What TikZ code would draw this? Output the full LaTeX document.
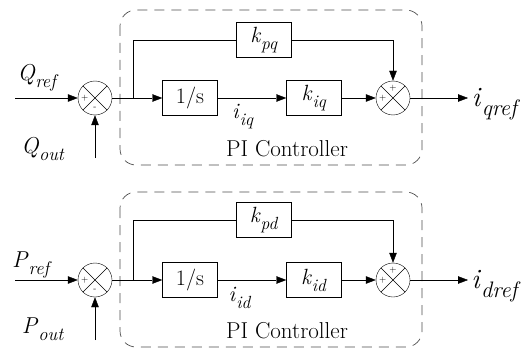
\documentclass[tikz,border=0pt]{standalone}
\usepackage{fontspec}
\usepackage{graphicx}
\usetikzlibrary{arrows.meta}
\newcommand{\vsub}[2]{\textit{#1}\raisebox{-0.32em}{\scalebox{0.8}{\textit{#2}}}}
\tikzset{
  blk/.style={draw, thin, minimum width=55pt, minimum height=35pt, inner sep=0pt, font=\fontsize{22}{24}\selectfont},
  sumjn/.style={draw, thin, circle, minimum size=34pt, inner sep=0pt,
    path picture={\draw[thin] (path picture bounding box.north west) -- (path picture bounding box.south east)
      (path picture bounding box.north east) -- (path picture bounding box.south west);}},
  sgn/.style={font=\fontsize{9}{9}\selectfont, inner sep=0pt},
  lbl/.style={font=\fontsize{23}{25}\selectfont, inner sep=0pt},
  sig/.style={thin, -{Triangle[length=10pt,width=7.5pt]}},
  picbox/.style={draw, line width=0.7pt, black!70, dash pattern=on 10pt off 7pt, rounded corners=16pt},
}
\begin{document}
\begin{tikzpicture}[x=1pt,y=-1pt]
  \useasboundingbox (0,0) rectangle (527,350);
  % reactive power loop
  \begin{scope}
    \draw[picbox] (120,10) rectangle (422,165);
    \node[sumjn] (sq1) at (95,98) {};
    \node[sgn] at ([xshift=7pt]sq1.west) {+};
    \node[sgn] at ([yshift=7pt]sq1.south) {-};
    \node[blk] (iq) at (190,98) {1/s};
    \node[blk] (kiq) at (314,98) {\vsub{k}{iq}};
    \node[blk] (kpq) at (264,40) {\vsub{k}{pq}};
    \node[sumjn] (sq2) at (393,98) {};
    \node[sgn] at ([xshift=7pt]sq2.west) {+};
    \node[sgn] at ([yshift=-7pt]sq2.north) {+};
    \coordinate (qin) at (15,98);
    \coordinate (qfb) at (95,158);
    \coordinate (qbr) at (133,98);
    \coordinate (qo) at (468,98);
    \draw[sig] (qin) -- (sq1);
    \draw[sig] (qfb) -- (sq1);
    \draw[sig] (sq1) -- (iq);
    \draw[thin] (qbr) |- (kpq);
    \draw[sig] (iq) -- (kiq);
    \draw[sig] (kiq) -- (sq2);
    \draw[sig] (kpq) -| (sq2);
    \draw[sig] (sq2) -- (qo);
    \node[lbl] (qref) at (38,78) {\vsub{Q}{ref}};
    \node[lbl] (qout) at (43,149) {\vsub{Q}{out}};
    \node[lbl, font=\fontsize{22}{24}\selectfont] (iiq) at (243,117) {\vsub{i}{iq}};
    \node[lbl, font=\fontsize{28}{30}\selectfont] (iqref) at (496,104) {\vsub{i}{qref}};
    \node[lbl] (piq) at (287,149) {PI Controller};
  \end{scope}
  % active power loop
  \begin{scope}
    \draw[picbox] (120,192) rectangle (422,347);
    \node[sumjn] (sd1) at (95,280) {};
    \node[sgn] at ([xshift=7pt]sd1.west) {+};
    \node[sgn] at ([yshift=7pt]sd1.south) {-};
    \node[blk] (id) at (190,280) {1/s};
    \node[blk] (kid) at (314,280) {\vsub{k}{id}};
    \node[blk] (kpd) at (264,220) {\vsub{k}{pd}};
    \node[sumjn] (sd2) at (393,280) {};
    \node[sgn] at ([xshift=7pt]sd2.west) {+};
    \node[sgn] at ([yshift=-7pt]sd2.north) {+};
    \coordinate (pin) at (15,280);
    \coordinate (pfb) at (95,340);
    \coordinate (pbr) at (133,280);
    \coordinate (po) at (468,280);
    \draw[sig] (pin) -- (sd1);
    \draw[sig] (pfb) -- (sd1);
    \draw[sig] (sd1) -- (id);
    \draw[thin] (pbr) |- (kpd);
    \draw[sig] (id) -- (kid);
    \draw[sig] (kid) -- (sd2);
    \draw[sig] (kpd) -| (sd2);
    \draw[sig] (sd2) -- (po);
    \node[lbl] (pref) at (32,265) {\vsub{P}{ref}};
    \node[lbl] (pout) at (43,329) {\vsub{P}{out}};
    \node[lbl, font=\fontsize{22}{24}\selectfont] (iid) at (240,298) {\vsub{i}{id}};
    \node[lbl, font=\fontsize{28}{30}\selectfont] (idref) at (496,286) {\vsub{i}{dref}};
    \node[lbl] (pid) at (287,331) {PI Controller};
  \end{scope}
\end{tikzpicture}
\end{document}
